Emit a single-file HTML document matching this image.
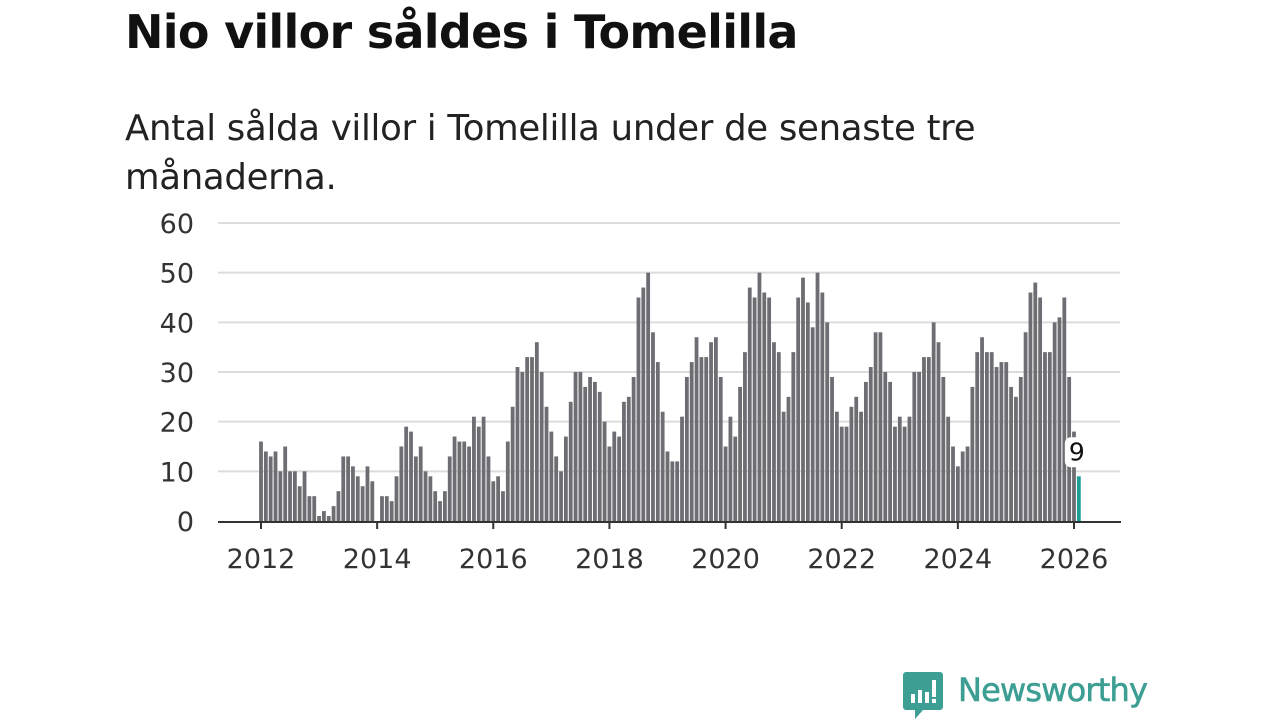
<!DOCTYPE html>
<html><head><meta charset="utf-8">
<style>
body{margin:0;width:1280px;height:720px;background:#fff;overflow:hidden;font-family:"Liberation Sans","DejaVu Sans",sans-serif;}
h1{position:absolute;left:125px;top:5px;margin:0;font-size:46px;font-weight:bold;color:#111;font-family:"DejaVu Sans","Liberation Sans",sans-serif;letter-spacing:-0.7px}
.sub{position:absolute;left:125px;top:104px;margin:0;font-size:35.5px;line-height:49px;color:#222;font-family:"DejaVu Sans","Liberation Sans",sans-serif;width:1000px;letter-spacing:-0.3px}
svg{position:absolute;left:0;top:0}
</style></head><body>
<h1>Nio villor såldes i Tomelilla</h1>
<p class="sub">Antal sålda villor i Tomelilla under de senaste tre<br>månaderna.</p>
<svg id="chart" width="1280" height="720"></svg>
<div style="position:absolute;left:903px;top:672px;width:260px;height:48px;">
<svg width="40" height="48" style="left:0;top:0">
<path d="M3 0h34a3 3 0 0 1 3 3v32a3 3 0 0 1-3 3H20l-8 9v-9H3a3 3 0 0 1-3-3V3a3 3 0 0 1 3-3z" fill="#3d9e93"/>
<rect x="8" y="22" width="4" height="9" fill="#fff"/><rect x="15" y="18" width="4" height="13" fill="#fff"/><rect x="22" y="20" width="4" height="11" fill="#fff"/><rect x="29" y="8" width="4" height="17" fill="#fff"/><rect x="29" y="27" width="4" height="4" fill="#fff"/>
</svg>
<span style="position:absolute;left:55px;top:-1px;font-size:32px;color:#3d9e93;font-family:'DejaVu Sans','Liberation Sans',sans-serif;letter-spacing:-0.8px;-webkit-text-stroke:0.6px #3d9e93">Newsworthy</span>
</div>
<script>
const years=[2012,2014,2016,2018,2020,2022,2024,2026];
const yTicks=[0,10,20,30,40,50,60];
const values=[
16,14,13,14,10,15,10,10,7,10,5,5,
1,2,1,3,6,13,13,11,9,7,11,8,
0,5,5,4,9,15,19,18,13,15,10,9,
6,4,6,13,17,16,16,15,21,19,21,13,
8,9,6,16,23,31,30,33,33,36,30,23,
18,13,10,17,24,30,30,27,29,28,26,20,
15,18,17,24,25,29,45,47,50,38,32,22,
14,12,12,21,29,32,37,33,33,36,37,29,
15,21,17,27,34,47,45,50,46,45,36,34,
22,25,34,45,49,44,39,50,46,40,29,22,
19,19,23,25,22,28,31,38,38,30,28,19,
21,19,21,30,30,33,33,40,36,29,21,15,
11,14,15,27,34,37,34,34,31,32,32,27,
25,29,38,46,48,45,34,34,40,41,45,29,
18,9];
const NS="http://www.w3.org/2000/svg";
const svg=document.getElementById('chart');
const X0=261,X1=1074,Y0=521,Y60=223;
function x(i){return X0+i*(X1-X0)/168;}
function y(v){return Y0-v*(Y0-Y60)/60;}
function mk(t,a){const e=document.createElementNS(NS,t);for(const k in a)e.setAttribute(k,a[k]);svg.appendChild(e);return e;}
yTicks.forEach(v=>{
  if(v>0){const g=mk('line',{x1:218,x2:1120,y1:y(v),y2:y(v),stroke:'#dcdcdc','stroke-width':2});
  
  }
  const t=mk('text',{x:194,y:y(v)+10,'text-anchor':'end','font-size':27,fill:'#333','font-family':'DejaVu Sans, Liberation Sans, sans-serif'});
  t.textContent=v;
  
  
});
values.forEach((v,i)=>{
  const last=i===values.length-1;
  const r=mk('rect',{x:x(i)-1.9,y:y(v),width:3.8,height:Y0-y(v),fill:last?'#1a9e96':'#6e6d73'});
  
  
});
const ax=mk('line',{x1:218,x2:1121,y1:Y0+1,y2:Y0+1,stroke:'#333','stroke-width':2});


years.forEach(yr=>{
  const xi=x((yr-2012)*12);
  const tk=mk('line',{x1:xi,x2:xi,y1:Y0,y2:Y0+8,stroke:'#333','stroke-width':2});
  
  
  const t=mk('text',{x:xi,y:568,'text-anchor':'middle','font-size':27,fill:'#333','font-family':'DejaVu Sans, Liberation Sans, sans-serif'});
  t.textContent=yr;
  
  
});
const li=values.length-1,lv=values[li];
const lb=mk('rect',{x:x(li)-14,y:y(lv)-39,width:24,height:30,rx:6,fill:'#fff'});


const lt=mk('text',{x:x(li)-2,y:y(lv)-16,'text-anchor':'middle','font-size':25,fill:'#111','font-family':'DejaVu Sans, Liberation Sans, sans-serif'});
lt.textContent=lv;


</script>
</body></html>
